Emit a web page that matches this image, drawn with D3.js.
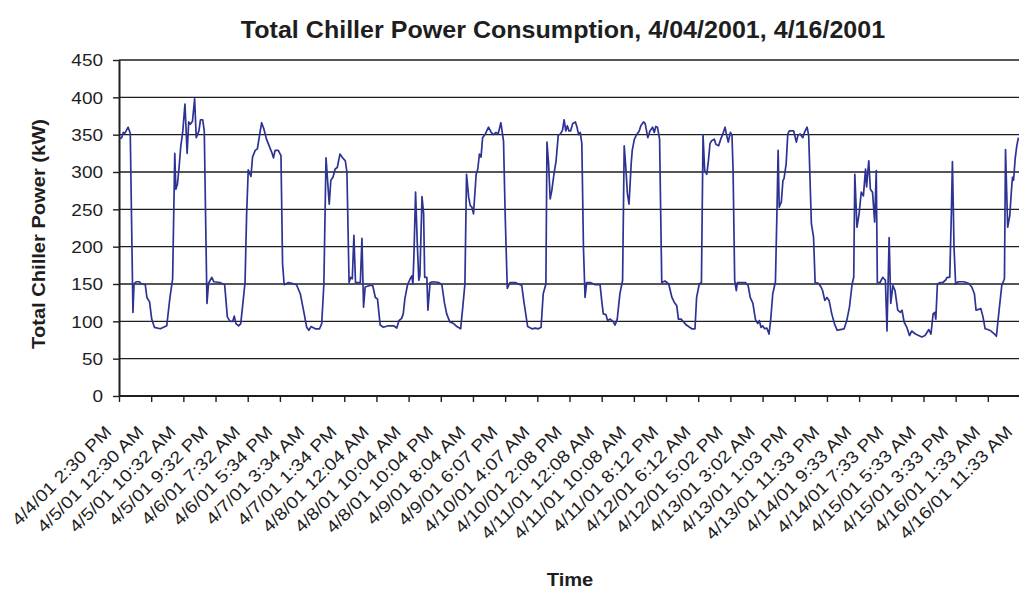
<!DOCTYPE html>
<html>
<head>
<meta charset="utf-8">
<script src="https://cdn.jsdelivr.net/npm/d3@7"></script>
<style>
  html, body { margin: 0; padding: 0; background: #fff; }
  svg { display: block; font-family: "Liberation Sans", Arial, Helvetica, sans-serif; }
</style>
</head>
<body>
<svg id="chart" width="1019" height="591"></svg>
<script>
const titleText = "Total Chiller Power Consumption, 4/04/2001, 4/16/2001";
const yTitle = "Total Chiller Power (kW)";
const xTitle = "Time";

const yTickValues = [0, 50, 100, 150, 200, 250, 300, 350, 400, 450];

const xLabels = [
  "4/4/01 2:30 PM", "4/5/01 12:30 AM", "4/5/01 10:32 AM", "4/5/01 9:32 PM",
  "4/6/01 7:32 AM", "4/6/01 5:34 PM", "4/7/01 3:34 AM", "4/7/01 1:34 PM",
  "4/8/01 12:04 AM", "4/8/01 10:04 AM", "4/8/01 10:04 PM", "4/9/01 8:04 AM",
  "4/9/01 6:07 PM", "4/10/01 4:07 AM", "4/10/01 2:08 PM", "4/11/01 12:08 AM",
  "4/11/01 10:08 AM", "4/11/01 8:12 PM", "4/12/01 6:12 AM", "4/12/01 5:02 PM",
  "4/13/01 3:02 AM", "4/13/01 1:03 PM", "4/13/01 11:33 PM", "4/14/01 9:33 AM",
  "4/14/01 7:33 PM", "4/15/01 5:33 AM", "4/15/01 3:33 PM", "4/16/01 1:33 AM",
  "4/16/01 11:33 AM"
];

// samples per category label interval
const samplesPerLabel = 60;

// sample index (10-minute readings) and total chiller power (kW)
const sampleIdx = [
  1,2,5,8,11,14,17,21,26,28,32,38,42,49,52,57,61,66,77,83,89,95,100,104,106,109,112,115,119,123,
  127,130,133,137,141,144,149,152,156,159,164,167,173,177,188,197,199,202,207,212,215,218,223,227,231,235,238,241,246,249,
  254,258,262,266,270,275,280,285,288,291,297,302,305,308,316,322,331,338,344,350,354,358,366,374,378,382,386,392,395,399,
  403,407,412,417,422,425,429,432,435,438,441,446,450,453,456,459,463,468,473,478,482,487,493,502,512,518,522,527,530,533,
  538,543,546,548,550,553,556,559,561,565,568,570,574,576,580,586,596,602,607,611,617,624,630,637,641,645,648,652,655,658,
  661,666,669,672,675,678,683,689,694,698,703,707,712,717,720,724,729,739,751,755,762,770,776,782,787,791,796,798,801,804,
  807,811,815,819,823,827,830,833,836,839,842,846,851,854,857,860,863,866,869,872,879,888,897,900,903,908,911,916,921,925,
  929,934,939,942,945,948,951,955,957,961,966,970,973,978,981,986,990,995,998,1001,1004,1008,1012,1018,1025,1031,1035,1040,1043,1048,
  1053,1058,1062,1068,1074,1077,1082,1086,1089,1092,1096,1099,1102,1105,1110,1113,1118,1122,1126,1130,1133,1136,1140,1143,1145,1148,1151,1153,1158,1168,
  1173,1177,1182,1185,1187,1191,1194,1197,1200,1204,1208,1212,1215,1219,1224,1227,1229,1231,1235,1238,1240,1244,1247,1250,1258,1263,1266,1270,1275,1278,
  1283,1286,1291,1295,1298,1304,1309,1312,1316,1320,1324,1329,1334,1339,1345,1352,1357,1362,1367,1370,1372,1376,1380,1384,1388,1392,1394,1398,1401,1405,
  1409,1412,1414,1419,1424,1429,1432,1436,1439,1443,1447,1452,1457,1460,1464,1469,1474,1478,1485,1491,1497,1503,1510,1514,1518,1521,1523,1526,1531,1536,
  1541,1544,1549,1552,1554,1557,1560,1565,1575,1584,1590,1595,1598,1603,1607,1611,1615,1620,1626,1631,1636,1639,1643,1646,1651,1653,1657,1661,1664,1666,
  1668,1671,1674,1677
];
const powerKW = [
  346,345,346,353,352,356,360,352,112,150,153,153,150,149,132,126,103,92,90,92,94,132,157,325,277,284,306,333,355,391,
  325,367,364,368,398,346,355,370,370,355,124,151,159,153,152,149,132,106,100,100,107,97,94,97,124,152,244,303,294,320,
  329,331,349,366,358,344,335,326,319,329,329,322,177,149,152,151,149,137,115,92,88,93,90,90,97,150,319,257,289,293,
  304,306,324,319,315,300,152,159,157,215,152,152,152,211,119,146,147,148,148,132,130,95,92,94,94,91,101,104,110,130,
  149,157,161,150,190,273,208,155,161,267,244,159,159,115,152,153,152,149,124,110,99,97,93,90,119,150,297,266,255,253,
  244,297,304,324,320,346,351,360,353,350,353,351,366,341,244,144,152,152,148,126,93,90,91,90,92,137,150,340,311,264,
  275,297,315,349,351,356,370,355,362,355,355,365,367,360,350,353,338,199,132,152,152,149,149,128,110,109,101,103,100,95,
  103,137,155,335,306,271,257,311,329,344,351,355,362,367,365,346,355,360,353,361,360,344,152,154,150,132,126,121,103,103,
  99,95,93,90,90,132,150,152,350,302,297,315,338,342,344,337,335,344,351,360,349,340,353,349,302,155,141,152,152,152,
  148,132,124,110,102,97,101,92,94,90,91,83,101,137,153,253,329,253,260,289,291,311,351,355,355,340,349,351,346,353,
  360,349,231,213,152,151,146,141,128,132,128,110,97,88,89,90,101,119,150,159,297,226,244,273,268,304,280,315,277,273,
  233,302,152,152,159,155,87,212,124,148,141,115,112,115,99,92,81,87,83,81,79,81,89,83,110,112,103,150,152,152,
  155,159,159,244,314,199,150,153,153,151,146,137,115,116,117,106,90,89,87,84,80,101,128,148,157,330,226,242,275,293,
  289,318,335,346
];

const W = 1019, H = 591;
const plot = { left: 119, right: 1020, top: 60, bottom: 396 };
const textStretch = 1.15;

const svg = d3.select("#chart");
svg.append("rect").attr("width", W).attr("height", H).attr("fill", "#fff");

const x = d3.scaleLinear()
  .domain([0, (xLabels.length - 1) * samplesPerLabel])
  .range([plot.left, plot.right]);
const y = d3.scaleLinear().domain([0, 450]).range([plot.bottom, plot.top]);

// gridlines
svg.append("g").selectAll("line")
  .data(yTickValues.filter(v => v > 0))
  .join("line")
  .attr("x1", plot.left).attr("x2", W)
  .attr("y1", d => y(d)).attr("y2", d => y(d))
  .attr("stroke", "#1e1e1e").attr("stroke-width", 1.4);

// y axis
const yAxis = svg.append("g")
  .attr("transform", `translate(${plot.left},0)`)
  .call(d3.axisLeft(y).tickValues(yTickValues).tickSize(6).tickSizeOuter(0));
yAxis.select(".domain").attr("stroke", "#1e1e1e").attr("stroke-width", 2);
yAxis.selectAll(".tick line").attr("stroke", "#1e1e1e").attr("stroke-width", 1.4);
yAxis.selectAll(".tick text")
  .attr("x", null).attr("dy", "0.36em")
  .attr("transform", `translate(-16,0) scale(${textStretch},1)`)
  .attr("text-anchor", "end")
  .attr("font-size", 16.5).attr("fill", "#1e1e1e")
  .attr("font-family", "'Liberation Sans', Arial, sans-serif");

// x axis
const xAxis = svg.append("g")
  .attr("transform", `translate(0,${plot.bottom})`)
  .call(d3.axisBottom(x)
    .tickValues(d3.range(0, xLabels.length).map(i => i * samplesPerLabel))
    .tickFormat(d => xLabels[Math.round(d / samplesPerLabel)])
    .tickSize(6).tickSizeOuter(0));
xAxis.select(".domain").attr("stroke", "#1e1e1e").attr("stroke-width", 2)
  .attr("d", `M${plot.left},0H${W}`);
xAxis.selectAll(".tick line").attr("stroke", "#1e1e1e").attr("stroke-width", 1.4);
xAxis.selectAll(".tick text")
  .attr("x", 0).attr("y", 0).attr("dy", 0)
  .attr("transform", `translate(-7,37) rotate(-45) scale(${textStretch},1)`)
  .attr("text-anchor", "end")
  .attr("font-size", 17).attr("fill", "#1e1e1e")
  .attr("font-family", "'Liberation Sans', Arial, sans-serif");

// data line
const line = d3.line()
  .x((d, i) => x(sampleIdx[i]))
  .y(d => y(d));
svg.append("path")
  .datum(powerKW)
  .attr("d", line)
  .attr("fill", "none")
  .attr("stroke", "#2d3393")
  .attr("stroke-width", 1.7)
  .attr("stroke-linejoin", "round");

// title
svg.append("text")
  .attr("transform", `translate(563,38) scale(1.09,1)`)
  .attr("text-anchor", "middle")
  .attr("font-size", 23).attr("font-weight", "bold").attr("fill", "#1e1e1e")
  .text(titleText);

// y axis title
svg.append("text")
  .attr("transform", `translate(45,234) rotate(-90) scale(${textStretch},1)`)
  .attr("text-anchor", "middle")
  .attr("font-size", 17.5).attr("font-weight", "bold").attr("fill", "#1e1e1e")
  .text(yTitle);

// x axis title
svg.append("text")
  .attr("transform", `translate(570,586) scale(${textStretch},1)`)
  .attr("text-anchor", "middle")
  .attr("font-size", 17.5).attr("font-weight", "bold").attr("fill", "#1e1e1e")
  .text(xTitle);
</script>
</body>
</html>
